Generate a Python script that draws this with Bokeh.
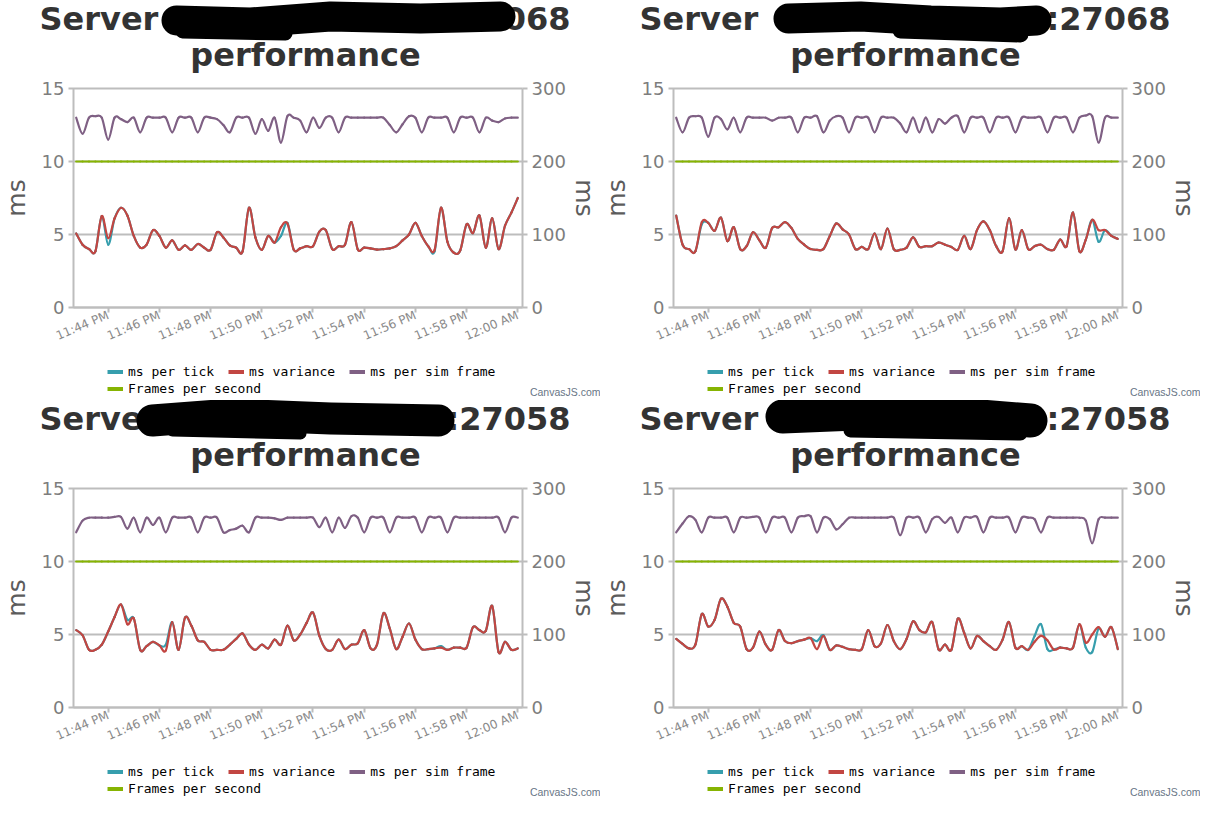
from datetime import datetime, timedelta

from bokeh.plotting import figure
from bokeh.models import (Range1d, LinearAxis, FixedTicker, DatetimeTickFormatter,
                          Legend, LegendItem, Label, ColumnDataSource)
from bokeh.layouts import column, row
from bokeh.embed import file_html
from bokeh.resources import INLINE

# ---------------------------------------------------------------- data
server_ports = ["27068", "27068", "27058", "27058"]

# samples every 15 s from 11:42:45 PM to 12:00:00 AM
sample_start = datetime(2016, 1, 1, 23, 42, 45)
sample_step_s = 15
n_samples = 70

tick_times = ["23:44", "23:46", "23:48", "23:50", "23:52", "23:54", "23:56", "23:58", "00:00"]

ms_per_tick_1 = [5.07, 4.3, 4.0, 3.85, 6.26, 4.3, 6.1, 6.83, 6.3, 4.9,
                 4.1, 4.3, 5.3, 4.9, 4.1, 4.6, 3.95, 4.25, 3.95, 4.35,
                 4.1, 3.95, 5.15, 4.8, 4.25, 4.1, 3.85, 6.83, 4.8, 3.95,
                 4.9, 4.45, 4.9, 5.8, 3.95, 4.05, 4.2, 4.2, 5.2, 5.3,
                 4.0, 4.2, 4.3, 5.85, 3.98, 4.1, 4.05, 3.97, 4.0, 4.05,
                 4.2, 4.6, 5.0, 5.8, 4.9, 4.2, 3.85, 6.83, 4.5, 3.75,
                 3.9, 5.7, 5.1, 6.3, 4.1, 6.1, 4.0, 5.6, 6.5, 7.5]
ms_variance_1 = [5.07, 4.3, 4.0, 3.85, 6.26, 4.75, 6.1, 6.83, 6.3, 4.9,
                 4.1, 4.3, 5.3, 4.9, 4.1, 4.6, 3.95, 4.25, 3.95, 4.35,
                 4.1, 3.95, 5.15, 4.8, 4.25, 4.1, 3.85, 6.83, 4.8, 3.95,
                 4.9, 4.45, 5.5, 5.75, 3.95, 4.05, 4.2, 4.2, 5.2, 5.3,
                 4.0, 4.2, 4.3, 5.85, 3.98, 4.1, 4.05, 3.97, 4.0, 4.05,
                 4.2, 4.6, 5.0, 5.8, 4.9, 4.2, 3.95, 6.83, 4.5, 3.75,
                 3.9, 5.7, 5.1, 6.3, 4.1, 6.1, 4.0, 5.6, 6.5, 7.5]
ms_per_sim_frame_1 = [13.0, 11.9, 13.0, 13.1, 13.0, 11.5, 13.0, 12.9, 12.7, 13.0,
                      12.0, 13.0, 13.0, 13.0, 13.0, 12.0, 13.0, 13.0, 13.0, 12.0,
                      13.0, 13.0, 12.9, 12.5, 12.0, 13.0, 13.0, 13.0, 11.9, 12.9,
                      12.1, 13.0, 11.3, 13.1, 13.0, 12.8, 12.0, 13.0, 12.3, 13.0,
                      13.0, 12.0, 13.0, 13.0, 13.0, 13.0, 13.0, 13.0, 13.0, 12.5,
                      12.0, 12.55, 13.1, 13.0, 12.0, 13.0, 13.0, 13.0, 13.0, 12.0,
                      13.0, 13.0, 13.0, 12.0, 13.0, 12.8, 12.7, 12.95, 13.0, 13.0]
frames_per_second_1 = [10.0] * 70

ms_per_tick_2 = [6.3, 4.3, 4.0, 3.85, 5.7, 5.8, 5.25, 6.15, 4.55, 5.5,
                 4.0, 4.2, 5.15, 4.6, 4.1, 5.45, 5.5, 5.85, 5.45, 4.7,
                 4.3, 4.0, 3.95, 4.0, 4.9, 5.75, 5.35, 5.0, 4.0, 4.15,
                 4.0, 5.07, 4.0, 5.4, 4.0, 3.95, 4.1, 4.8, 4.15, 4.2,
                 4.2, 4.45, 4.3, 4.15, 3.95, 4.9, 4.0, 5.3, 5.9, 5.3,
                 4.2, 3.85, 6.1, 3.97, 5.3, 4.0, 4.2, 4.3, 4.0, 3.95,
                 4.65, 4.2, 6.5, 3.85, 4.65, 6.0, 4.5, 5.3, 4.9, 4.7]
ms_variance_2 = [6.3, 4.3, 4.0, 3.85, 5.85, 5.8, 5.25, 6.15, 4.55, 5.5,
                 4.0, 4.2, 5.15, 4.6, 4.1, 5.45, 5.5, 5.85, 5.45, 4.7,
                 4.3, 4.0, 3.95, 4.0, 4.9, 5.75, 5.35, 5.0, 4.0, 4.15,
                 4.0, 5.07, 4.0, 5.4, 4.0, 3.95, 4.1, 4.8, 4.15, 4.2,
                 4.2, 4.45, 4.3, 4.15, 3.95, 4.9, 4.0, 5.3, 5.9, 5.3,
                 4.2, 3.85, 6.1, 3.97, 5.3, 4.0, 4.2, 4.3, 4.0, 3.95,
                 4.65, 4.2, 6.5, 3.85, 4.65, 6.0, 5.3, 5.3, 4.9, 4.7]
ms_per_sim_frame_2 = [13.0, 12.0, 13.0, 13.1, 13.0, 11.7, 13.0, 12.9, 12.2, 13.0,
                      12.0, 13.0, 13.0, 13.0, 13.0, 12.8, 13.0, 13.0, 13.0, 12.0,
                      13.0, 13.0, 13.1, 12.0, 12.8, 13.1, 13.0, 12.0, 13.0, 13.0,
                      13.0, 12.0, 13.0, 13.0, 13.0, 12.6, 12.0, 13.0, 12.0, 13.0,
                      12.0, 12.9, 12.6, 13.0, 13.1, 12.0, 13.0, 13.0, 13.0, 12.0,
                      13.0, 13.0, 13.0, 12.0, 13.0, 13.0, 13.0, 13.0, 12.0, 13.0,
                      13.0, 13.0, 12.0, 13.0, 13.15, 13.1, 11.3, 13.0, 13.0, 13.0]
frames_per_second_2 = [10.0] * 70

ms_per_tick_3 = [5.3, 4.95, 3.95, 3.95, 4.3, 5.2, 6.2, 7.05, 6.0, 6.1,
                 3.95, 4.2, 4.5, 4.25, 4.3, 5.85, 3.95, 6.15, 5.6, 4.6,
                 4.5, 3.95, 3.95, 3.95, 4.3, 4.7, 5.07, 4.3, 3.95, 4.3,
                 4.05, 4.65, 4.3, 5.6, 4.6, 5.0, 5.8, 6.5, 4.9, 4.0,
                 3.95, 4.65, 4.0, 4.3, 4.4, 5.3, 4.05, 4.3, 6.45, 5.4,
                 4.0, 4.85, 5.75, 4.65, 4.0, 4.0, 4.05, 4.2, 3.95, 4.1,
                 4.1, 4.1, 5.5, 5.3, 5.25, 6.95, 3.8, 4.5, 3.95, 4.05]
ms_variance_3 = [5.3, 4.95, 3.95, 3.95, 4.3, 5.2, 6.2, 7.05, 5.7, 6.1,
                 3.95, 4.2, 4.5, 4.25, 3.9, 5.85, 3.95, 6.15, 5.6, 4.6,
                 4.5, 3.95, 3.95, 3.95, 4.3, 4.7, 5.07, 4.3, 3.95, 4.3,
                 4.05, 4.65, 4.3, 5.6, 4.6, 5.0, 5.8, 6.5, 4.9, 4.0,
                 3.95, 4.65, 4.0, 4.3, 4.4, 5.3, 4.05, 4.3, 6.45, 5.4,
                 4.0, 4.85, 5.75, 4.65, 4.0, 4.0, 4.05, 4.1, 3.95, 4.1,
                 4.1, 4.1, 5.5, 5.3, 5.25, 6.95, 3.8, 4.5, 3.95, 4.05]
ms_per_sim_frame_3 = [12.0, 12.8, 13.0, 13.0, 13.0, 13.0, 13.05, 13.05, 12.25, 13.0,
                      12.0, 13.0, 12.5, 13.0, 12.0, 13.0, 13.0, 13.0, 13.0, 12.0,
                      13.0, 13.0, 13.0, 12.0, 12.15, 12.25, 12.45, 12.0, 13.0, 13.0,
                      13.0, 12.95, 12.85, 13.0, 13.0, 13.0, 13.0, 13.0, 12.35, 13.0,
                      12.0, 13.0, 12.3, 13.1, 13.0, 12.0, 13.0, 13.0, 13.0, 12.0,
                      13.0, 13.0, 13.0, 13.0, 12.0, 13.0, 13.0, 13.0, 12.0, 13.0,
                      13.0, 13.0, 13.0, 13.0, 13.0, 13.0, 13.0, 12.0, 13.0, 13.0]
frames_per_second_3 = [10.0] * 70

ms_per_tick_4 = [4.7, 4.35, 4.05, 4.3, 6.4, 5.55, 6.0, 7.45, 6.9, 5.8,
                 5.55, 4.0, 4.1, 5.2, 4.3, 3.95, 5.3, 4.55, 4.4, 4.55,
                 4.65, 4.75, 4.55, 4.95, 3.95, 4.25, 4.15, 4.0, 3.95, 4.0,
                 5.3, 4.2, 4.4, 5.65, 4.55, 4.0, 4.7, 5.9, 5.3, 5.15,
                 5.85, 3.98, 4.3, 3.95, 6.08, 5.1, 4.05, 4.9, 4.55, 4.2,
                 3.95, 4.65, 5.85, 4.1, 4.2, 3.95, 4.9, 5.7, 4.0, 3.97,
                 4.1, 4.05, 4.1, 5.7, 4.1, 3.8, 5.4, 4.85, 5.5, 4.0]
ms_variance_4 = [4.7, 4.35, 4.05, 4.3, 6.4, 5.55, 6.0, 7.45, 6.9, 5.8,
                 5.55, 4.0, 4.1, 5.2, 4.3, 3.95, 5.3, 4.55, 4.4, 4.55,
                 4.65, 4.75, 4.0, 4.9, 3.95, 4.25, 4.15, 4.0, 3.95, 4.0,
                 5.3, 4.2, 4.4, 5.65, 4.55, 4.0, 4.7, 5.9, 5.3, 5.15,
                 5.85, 3.98, 4.3, 3.95, 6.08, 5.1, 4.05, 4.9, 4.55, 4.2,
                 3.95, 4.65, 5.85, 4.1, 4.2, 3.95, 4.5, 4.9, 4.6, 3.97,
                 4.1, 4.05, 4.1, 5.7, 4.45, 5.0, 5.5, 4.85, 5.5, 4.0]
ms_per_sim_frame_4 = [12.0, 12.6, 13.1, 12.85, 12.0, 13.0, 13.0, 13.0, 13.0, 12.0,
                      13.0, 13.0, 13.05, 13.0, 12.0, 13.0, 13.0, 13.0, 12.0, 13.0,
                      13.1, 13.1, 12.0, 13.0, 12.9, 12.2, 12.55, 13.0, 13.0, 13.0,
                      13.0, 13.0, 13.0, 13.0, 13.0, 11.8, 13.0, 13.0, 13.0, 12.0,
                      12.9, 13.05, 12.65, 13.0, 12.0, 13.0, 13.0, 13.05, 12.0, 13.0,
                      13.0, 13.0, 13.0, 12.0, 13.0, 13.0, 12.9, 12.0, 13.0, 13.0,
                      13.0, 13.0, 13.0, 13.0, 12.8, 11.25, 12.9, 13.0, 13.0, 13.0]
frames_per_second_4 = [10.0] * 70

series_names = ["ms per tick", "ms variance", "ms per sim frame", "Frames per second"]

# ---------------------------------------------------------------- geometry / style
COLORS = ["#369EAD", "#C24642", "#7F6084", "#86B402"]
AXIS_GREY = "#bdbdbd"
EPOCH = datetime(1970, 1, 1)

PANEL_W, PANEL_H = 600, 400
PX_L, PX_R, PX_T, PX_B = 73, 522, 88, 307      # plot area inside a panel (pixels)
Y_MAX, Y2_MAX = 15, 300
BASELINE_FIX = 11.5                              # Label 'alphabetic' baseline correction


def to_ms(t):
    return (t - EPOCH).total_seconds() * 1000.0


T0 = to_ms(datetime(2016, 1, 1, 23, 42, 38, 700000))
T1 = to_ms(datetime(2016, 1, 2, 0, 0, 11))
MS_PER_PX = (T1 - T0) / (PX_R - PX_L)
UPP = Y_MAX / (PX_B - PX_T)
UPP2 = Y2_MAX / (PX_B - PX_T)


def px2x(px):
    return T0 + (px - PX_L) * MS_PER_PX


def py2y(py):
    return (PX_B - py) * UPP


def py2y2(py):
    return (PX_B - py) * UPP2


sample_times = [sample_start + timedelta(seconds=sample_step_s * i) for i in range(n_samples)]
x_ms = [to_ms(t) for t in sample_times]


def parse_tick(s):
    h, m = (int(v) for v in s.split(":"))
    day = 1 if h >= 12 else 2
    return datetime(2016, 1, day, h, m)


tick_ms = [to_ms(parse_tick(s)) for s in tick_times]


def spline_source(xs, ys):
    """Cubic Bezier segments of a Catmull-Rom spline through the data (CanvasJS 'spline')."""
    n = len(xs)

    def deriv(i):
        i1, i2 = max(i - 1, 0), min(i + 1, n - 1)
        return (xs[i2] - xs[i1]) / 2.0, (ys[i2] - ys[i1]) / 2.0

    d = dict(x0=[], y0=[], x1=[], y1=[], cx0=[], cy0=[], cx1=[], cy1=[])
    for i in range(n - 1):
        dx0, dy0 = deriv(i)
        dx1, dy1 = deriv(i + 1)
        d["x0"].append(xs[i]); d["y0"].append(ys[i])
        d["x1"].append(xs[i + 1]); d["y1"].append(ys[i + 1])
        d["cx0"].append(xs[i] + dx0 / 3.0); d["cy0"].append(ys[i] + dy0 / 3.0)
        d["cx1"].append(xs[i + 1] - dx1 / 3.0); d["cy1"].append(ys[i + 1] - dy1 / 3.0)
    return ColumnDataSource(d)


def screen_label(x, py, text, **kw):
    return Label(x=x, y=PANEL_H - py, x_units="screen", y_units="screen", text=text, **kw)


def make_panel(port, strokes, tick, var, sim, fps):
    p = figure(width=PANEL_W, height=PANEL_H, x_axis_type="datetime",
               x_range=Range1d(px2x(0), px2x(PANEL_W)), y_range=Range1d(py2y(PANEL_H), py2y(0)),
               toolbar_location=None, output_backend="svg", min_border=0,
               outline_line_color=None, title=None)
    p.extra_y_ranges = {"y2": Range1d(py2y2(PANEL_H), py2y2(0))}
    p.grid.visible = False

    # x axis (time)
    xa = p.xaxis[0]
    xa.fixed_location = 0
    xa.bounds = (T0, T1)
    xa.ticker = FixedTicker(ticks=tick_ms)
    fmt = "%I:%M %p"
    xa.formatter = DatetimeTickFormatter(minsec=fmt, minutes=fmt, hourmin=fmt, hours=fmt, days=fmt,
                                         boundary_scaling=False)
    xa.major_label_orientation = 0.40
    xa.major_label_text_font = "DejaVu Sans"
    xa.major_label_text_font_size = "12px"
    xa.major_label_text_color = "#8a8a8a"
    xa.major_label_standoff = 2

    # left axis; its inward ticks are the horizontal grid lines
    ya = p.yaxis[0]
    ya.fixed_location = T0
    ya.bounds = (0, Y_MAX)
    ya.ticker = FixedTicker(ticks=[0, 5, 10, 15])
    ya.axis_label = "ms"
    ya.major_tick_in = PX_R - PX_L

    # right axis
    ya2 = LinearAxis(y_range_name="y2", fixed_location=T1, bounds=(0, Y2_MAX),
                     ticker=FixedTicker(ticks=[0, 100, 200, 300]), axis_label="ms")
    ya2.major_tick_in = 0
    p.add_layout(ya2, "right")

    for ax in (xa, ya, ya2):
        ax.level = "underlay"
        ax.axis_line_color = AXIS_GREY
        ax.axis_line_width = 2
        ax.major_tick_line_color = AXIS_GREY
        ax.major_tick_line_width = 2
        ax.major_tick_out = 5
        ax.minor_tick_line_color = None
    xa.major_tick_in = 0
    for ax in (ya, ya2):
        ax.major_label_text_font = "DejaVu Sans"
        ax.major_label_text_font_size = "18px"
        ax.major_label_text_color = "#7d7d7d"
        ax.major_label_standoff = 4
        ax.axis_label_text_font = "DejaVu Sans"
        ax.axis_label_text_font_size = "25px"
        ax.axis_label_text_font_style = "normal"
        ax.axis_label_text_color = "#5c5c5c"
    ya.axis_label_standoff = 8
    ya2.axis_label_standoff = 1

    # series (spline)
    proxies = []
    for ys, color in zip([tick, var, sim, fps], COLORS):
        p.bezier(x0="x0", y0="y0", x1="x1", y1="y1", cx0="cx0", cy0="cy0", cx1="cx1", cy1="cy1",
                 source=spline_source(x_ms, ys), line_color=color, line_width=2.2,
                 line_cap="round", line_join="round")
        # one-point line: invisible on the chart, gives the thick legend swatch
        proxies.append(p.line(x=x_ms[:1], y=ys[:1], line_color=color, line_width=4))

    # legend (two rows, like CanvasJS wraps it)
    leg_style = dict(orientation="horizontal", padding=0, margin=0, spacing=14,
                     glyph_width=16, glyph_height=17, label_height=17, label_standoff=5,
                     label_text_font="DejaVu Sans Mono", label_text_font_size="13px",
                     label_text_color="#000000", background_fill_alpha=0, border_line_alpha=0)
    leg1 = Legend(items=[LegendItem(label=series_names[k], renderers=[proxies[k]]) for k in range(3)],
                  location=(107, PANEL_H - 379.5), **leg_style)
    leg2 = Legend(items=[LegendItem(label=series_names[3], renderers=[proxies[3]])],
                  location=(107, PANEL_H - 396.5), **leg_style)
    p.add_layout(leg1)
    p.add_layout(leg2)

    # title (two lines)
    tstyle = dict(text_font="DejaVu Sans", text_font_style="bold", text_font_size="32px",
                  text_color="#333333", text_baseline="alphabetic")
    p.add_layout(screen_label(39, 30 - BASELINE_FIX, "Server", text_align="left", **tstyle))
    p.add_layout(screen_label(570, 30 - BASELINE_FIX, ":" + port, text_align="right", **tstyle))
    p.add_layout(screen_label(305, 66 - BASELINE_FIX, "performance", text_align="center", **tstyle))

    # redaction scribble over the host name
    for xs, ys, w in strokes:
        p.multi_line(xs=[[px2x(v) for v in xs]], ys=[[py2y(v) for v in ys]], line_width=w,
                     line_color="black", line_cap="round", line_join="round", level="overlay")

    # credit
    p.add_layout(screen_label(600, 391, "CanvasJS.com", text_align="right", text_baseline="middle",
                              text_font="Liberation Sans", text_font_size="10.5px",
                              text_color="#687586"))
    return p


blob_strokes = [
    [([176, 250, 330, 420, 500], [20, 22, 16, 18, 16], 30), ([182, 285], [31, 33], 14)],
    [([188, 260, 330, 400, 436], [18, 16, 20, 22, 20], 30), ([300, 420], [30, 34], 16)],
    [([152, 230, 330, 438], [20, 14, 18, 20], 32), ([172, 300], [30, 33], 12)],
    [([182, 280, 380, 430], [16, 12, 16, 20], 34), ([250, 420], [30, 33], 14)],
]

series_sets = [
    (ms_per_tick_1, ms_variance_1, ms_per_sim_frame_1, frames_per_second_1),
    (ms_per_tick_2, ms_variance_2, ms_per_sim_frame_2, frames_per_second_2),
    (ms_per_tick_3, ms_variance_3, ms_per_sim_frame_3, frames_per_second_3),
    (ms_per_tick_4, ms_variance_4, ms_per_sim_frame_4, frames_per_second_4),
]

panels = [make_panel(port, strokes, *s) for port, strokes, s in zip(server_ports, blob_strokes, series_sets)]

layout = column(row(panels[0], panels[1], spacing=0), row(panels[2], panels[3], spacing=0), spacing=0)

open("out.html", "w").write(file_html(layout, INLINE))
